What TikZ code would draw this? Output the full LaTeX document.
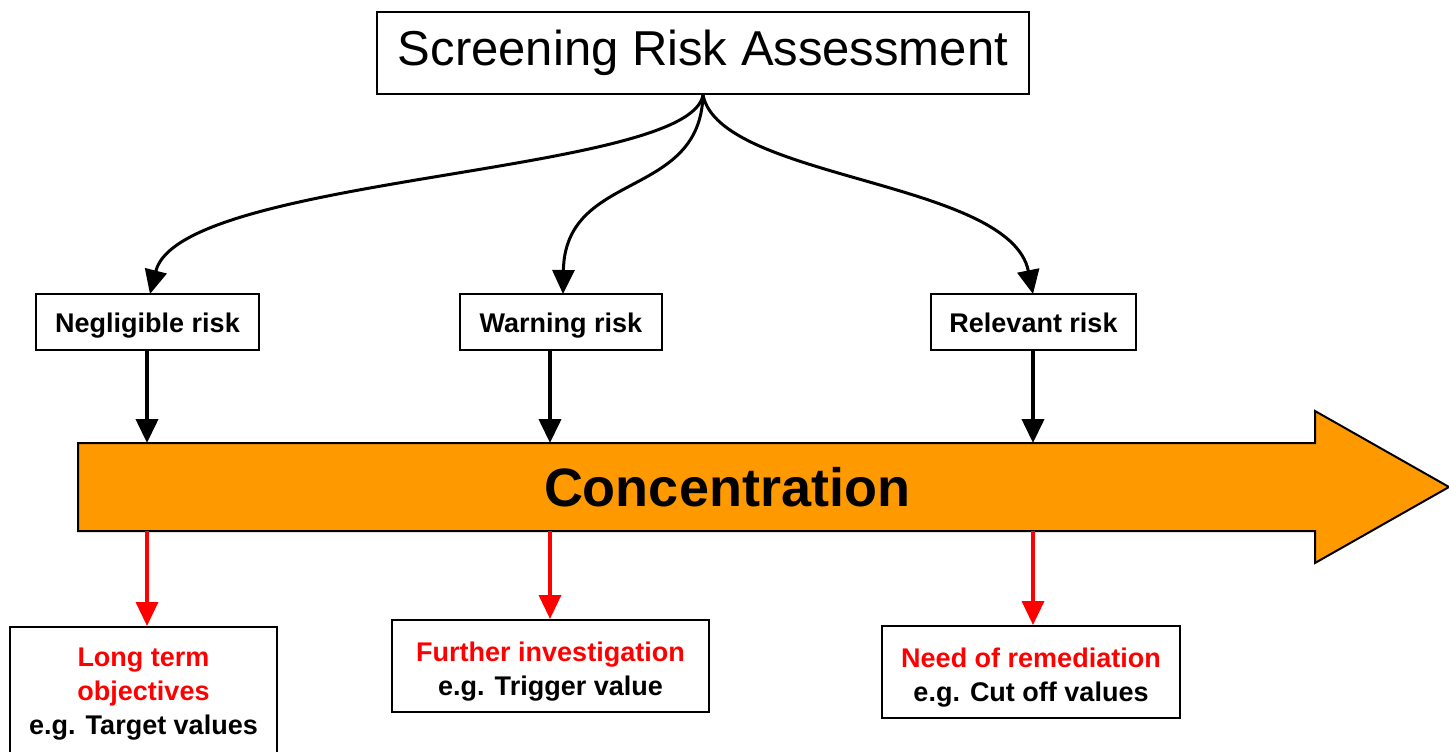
\documentclass[tikz,border=0pt]{standalone}
\usepackage{fontspec}
\setmainfont{Liberation Sans}
\usetikzlibrary{arrows.meta}
\definecolor{conc}{HTML}{FF9900}
\definecolor{redtxt}{HTML}{FF0000}
\newcommand{\topstrut}{\rule{0pt}{31pt}}
\begin{document}
\begin{tikzpicture}[x=1pt,y=-1pt,
  box/.style={draw=black,line width=2pt,fill=white,rectangle,inner sep=0pt},
  lbl/.style={font=\fontsize{27}{34}\selectfont\bfseries,align=center},
  risk/.style={box,lbl,minimum height=56pt,text height=20pt,text depth=0pt},
  outc/.style={box,lbl,minimum height=92pt},
  blk/.style={line width=4pt,-{Triangle[length=24pt,width=22pt]}},
  rda/.style={draw=redtxt,line width=3.5pt,-{Triangle[length=24pt,width=22pt]}},
  crv/.style={line width=3pt,-{Triangle[length=24pt,width=22pt]}}]
\useasboundingbox (0,0) rectangle (1449,752);
% title
\node[box,minimum width=652pt,minimum height=82pt,font=\fontsize{49}{56}\selectfont] (title) at (703,53) {Screening Risk Assessment};
% risk boxes
\node[risk,minimum width=223pt] (neg) at (147.5,322) {Negligible risk};
\node[risk,minimum width=202pt] (warn) at (561,322) {Warning risk};
\node[risk,minimum width=205pt] (rel) at (1033.5,322) {Relevant risk};
% big arrow
\draw[line width=2pt,fill=conc,line join=miter] (78,443) -- (1315,443) -- (1315,411) -- (1449,487) -- (1315,563) -- (1315,531) -- (78,531) -- cycle;
\node[font=\fontsize{54}{60}\selectfont\bfseries] (concl) at (727,487) {Concentration};
\coordinate (t1) at (147,443);
\coordinate (t2) at (550,443);
\coordinate (t3) at (1033,443);
\coordinate (b1) at (147,531);
\coordinate (b2) at (550,531);
\coordinate (b3) at (1033,531);
% bottom boxes
\node[box,lbl,minimum width=267pt,minimum height=134pt,anchor=north] (long) at (143.5,626) {\textcolor{redtxt}{Long term}\\\textcolor{redtxt}{objectives}\\e.g. Target values};
\node[outc,minimum width=317pt] (fur) at (550.5,666) {\topstrut\textcolor{redtxt}{Further investigation}\\e.g. Trigger value};
\node[outc,minimum width=298pt] (need) at (1031,672) {\topstrut\textcolor{redtxt}{Need of remediation}\\e.g. Cut off values};
% curves
\draw[crv] (title.south) .. controls (690,175) and (180,175) .. (150,294);
\draw[crv] (title.south) .. controls (700,200) and (565,170) .. (563,294);
\draw[crv] (title.south) .. controls (720,180) and (1010,180) .. (1033,294);
% black arrows
\draw[blk] (neg.south -| t1) -- (t1);
\draw[blk] (warn.south -| t2) -- (t2);
\draw[blk] (rel.south -| t3) -- (t3);
% red arrows
\draw[rda] (b1) -- (b1 |- long.north);
\draw[rda] (b2) -- (b2 |- fur.north);
\draw[rda] (b3) -- (b3 |- need.north);
\end{tikzpicture}
\end{document}
